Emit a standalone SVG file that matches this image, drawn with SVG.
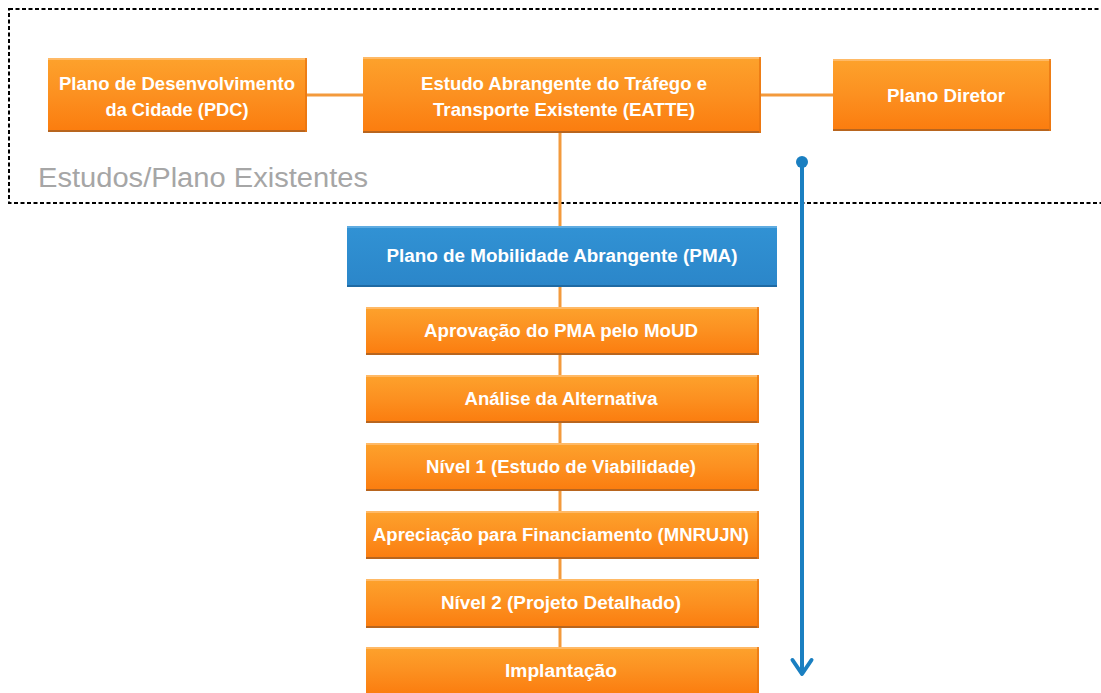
<svg xmlns="http://www.w3.org/2000/svg" width="1101" height="693" viewBox="0 0 1101 693">
<defs>
<linearGradient id="og" x1="0" y1="0" x2="0" y2="1">
<stop offset="0" stop-color="#fda22c"/>
<stop offset="0.5" stop-color="#fc9020"/>
<stop offset="1" stop-color="#fb7c0e"/>
</linearGradient>
<linearGradient id="bg" x1="0" y1="0" x2="0" y2="1">
<stop offset="0" stop-color="#3192d4"/>
<stop offset="1" stop-color="#2b86c9"/>
</linearGradient>
<marker id="chev" markerWidth="26" markerHeight="26" refX="17" refY="13" orient="auto" markerUnits="userSpaceOnUse">
<path d="M3,3.5 L17,13 L3,22.5" fill="none" stroke="#1a7fc1" stroke-width="4" stroke-linecap="round" stroke-linejoin="round"/>
</marker>
</defs>
<style>
.ob{fill:url(#og);}
.bb{fill:url(#bg);}
.hi{stroke:#ffc27a;stroke-width:1.5;}
.lo{stroke:#b8651e;stroke-width:2;}
.ro{stroke:#e87410;stroke-width:1.5;}
.bhi{stroke:#6fb4e6;stroke-width:1.5;}
.blo{stroke:#1f6aa3;stroke-width:2;}
.t{font-family:"Liberation Sans",Arial,sans-serif;font-weight:bold;font-size:18px;fill:#ffffff;text-anchor:middle;}
.c{stroke:#f39a3c;stroke-width:3;fill:none;}
</style>
<rect x="9" y="9" width="1110" height="194" fill="none" stroke="#000" stroke-width="2" stroke-dasharray="4 2.5"/>
<text x="38" y="187" font-family="'Liberation Sans',Arial,sans-serif" font-size="27" fill="#a6a6a6" textLength="330" lengthAdjust="spacingAndGlyphs">Estudos/Plano Existentes</text>
<g id="connectors">
<line class="c" x1="307" y1="95" x2="363" y2="95"/>
<line class="c" x1="761" y1="95" x2="833" y2="95"/>
<line class="c" x1="560" y1="133" x2="560" y2="226"/>
<line class="c" x1="560" y1="287" x2="560" y2="307"/>
<line class="c" x1="560" y1="355" x2="560" y2="375"/>
<line class="c" x1="560" y1="423" x2="560" y2="443"/>
<line class="c" x1="560" y1="491" x2="560" y2="511"/>
<line class="c" x1="560" y1="559" x2="560" y2="579"/>
<line class="c" x1="560" y1="627" x2="560" y2="647"/>
</g>
<g id="timeline">
<line x1="802" y1="162" x2="802" y2="674" stroke="#1a7fc1" stroke-width="4" marker-end="url(#chev)"/>
<circle cx="802" cy="162" r="6" fill="#1a7fc1"/>
</g>
<g id="pdc">
<rect class="ob" x="48" y="58" width="259" height="74"/>
<line class="hi" x1="48" y1="59" x2="307" y2="59"/>
<line class="lo" x1="48" y1="131" x2="307" y2="131"/>
<line class="ro" x1="306" y1="58" x2="306" y2="132"/>
<text class="t" x="177" y="90" textLength="236" lengthAdjust="spacingAndGlyphs">Plano de Desenvolvimento</text>
<text class="t" x="177" y="116" textLength="143" lengthAdjust="spacingAndGlyphs">da Cidade (PDC)</text>
</g>
<g id="eatte">
<rect class="ob" x="363" y="57" width="398" height="76"/>
<line class="hi" x1="363" y1="58" x2="761" y2="58"/>
<line class="lo" x1="363" y1="132" x2="761" y2="132"/>
<line class="ro" x1="760" y1="57" x2="760" y2="133"/>
<text class="t" x="564" y="90" textLength="286" lengthAdjust="spacingAndGlyphs">Estudo Abrangente do Tráfego e</text>
<text class="t" x="564" y="116" textLength="262" lengthAdjust="spacingAndGlyphs">Transporte Existente (EATTE)</text>
</g>
<g id="diretor">
<rect class="ob" x="833" y="59" width="218" height="72"/>
<line class="hi" x1="833" y1="60" x2="1051" y2="60"/>
<line class="lo" x1="833" y1="130" x2="1051" y2="130"/>
<line class="ro" x1="1050" y1="59" x2="1050" y2="131"/>
<text class="t" x="946" y="102" textLength="118" lengthAdjust="spacingAndGlyphs">Plano Diretor</text>
</g>
<g id="pma">
<rect class="bb" x="347" y="226" width="430" height="61"/>
<line class="bhi" x1="347" y1="227" x2="777" y2="227"/>
<line class="blo" x1="347" y1="286" x2="777" y2="286"/>
<text class="t" x="562" y="262" textLength="351" lengthAdjust="spacingAndGlyphs">Plano de Mobilidade Abrangente (PMA)</text>
</g>
<g id="aprovacao">
<rect class="ob" x="366" y="307" width="393" height="48"/>
<line class="hi" x1="366" y1="308" x2="759" y2="308"/>
<line class="lo" x1="366" y1="354" x2="759" y2="354"/>
<line class="ro" x1="758" y1="307" x2="758" y2="355"/>
<text class="t" x="561" y="337" textLength="274" lengthAdjust="spacingAndGlyphs">Aprovação do PMA pelo MoUD</text>
</g>
<g id="analise">
<rect class="ob" x="366" y="375" width="393" height="48"/>
<line class="hi" x1="366" y1="376" x2="759" y2="376"/>
<line class="lo" x1="366" y1="422" x2="759" y2="422"/>
<line class="ro" x1="758" y1="375" x2="758" y2="423"/>
<text class="t" x="561" y="405" textLength="193" lengthAdjust="spacingAndGlyphs">Análise da Alternativa</text>
</g>
<g id="nivel1">
<rect class="ob" x="366" y="443" width="393" height="48"/>
<line class="hi" x1="366" y1="444" x2="759" y2="444"/>
<line class="lo" x1="366" y1="490" x2="759" y2="490"/>
<line class="ro" x1="758" y1="443" x2="758" y2="491"/>
<text class="t" x="561" y="473" textLength="270" lengthAdjust="spacingAndGlyphs">Nível 1 (Estudo de Viabilidade)</text>
</g>
<g id="apreciacao">
<rect class="ob" x="366" y="511" width="393" height="48"/>
<line class="hi" x1="366" y1="512" x2="759" y2="512"/>
<line class="lo" x1="366" y1="558" x2="759" y2="558"/>
<line class="ro" x1="758" y1="511" x2="758" y2="559"/>
<text class="t" x="561" y="541" textLength="376" lengthAdjust="spacingAndGlyphs">Apreciação para Financiamento (MNRUJN)</text>
</g>
<g id="nivel2">
<rect class="ob" x="366" y="579" width="393" height="49"/>
<line class="hi" x1="366" y1="580" x2="759" y2="580"/>
<line class="lo" x1="366" y1="627" x2="759" y2="627"/>
<line class="ro" x1="758" y1="579" x2="758" y2="628"/>
<text class="t" x="561" y="609" textLength="240" lengthAdjust="spacingAndGlyphs">Nível 2 (Projeto Detalhado)</text>
</g>
<g id="implantacao">
<rect class="ob" x="366" y="647" width="393" height="48"/>
<line class="hi" x1="366" y1="648" x2="759" y2="648"/>
<line class="ro" x1="758" y1="647" x2="758" y2="695"/>
<text class="t" x="561" y="677" textLength="112" lengthAdjust="spacingAndGlyphs">Implantação</text>
</g>
</svg>
